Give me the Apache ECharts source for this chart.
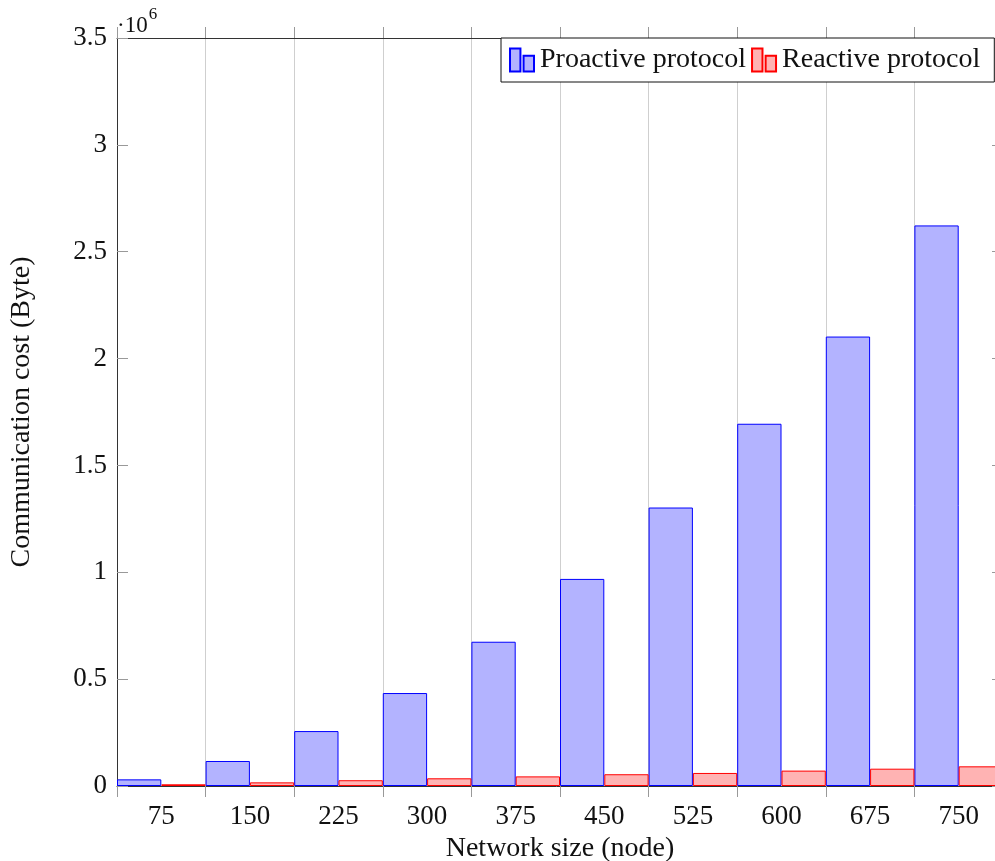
<!DOCTYPE html>
<html>
<head>
<meta charset="utf-8">
<script src="https://cdn.jsdelivr.net/npm/echarts@6/dist/echarts.min.js"></script>
<style>
  html, body { margin: 0; padding: 0; background: #fff; }
  #chart { width: 995px; height: 861px; }
</style>
</head>
<body>
<div id="chart"></div>
<script>
// Network sizes (number of nodes)
const networkSizes = ['75', '150', '225', '300', '375', '450', '525', '600', '675', '750'];
// Communication cost in bytes
const proactiveCost = [31000, 117000, 257000, 435000, 675000, 969000, 1303000, 1695000, 2103000, 2623000];
const reactiveCost  = [8000, 17000, 27000, 36000, 45000, 55000, 61000, 72000, 81000, 92000];
// Y tick step and range (bytes)
const yMax = 3500000;
const yStep = 500000;
const yScale = 1e6;

const FONT = 'Liberation Serif';
const FS_TICK = 27;
const FS_TEXT = 28;
const axisColor = '#333';
const tickColor = '#999';
const gridColor = '#cfcfcf';

const chart = echarts.init(document.getElementById('chart'), null, { renderer: 'canvas' });

const xBase = {
  type: 'category',
  data: networkSizes,
  boundaryGap: true,
  axisLine: { show: true, onZero: false, lineStyle: { color: axisColor, width: 1 } },
  axisTick: { show: true, inside: false, length: 11, lineStyle: { color: tickColor } }
};
const yBase = {
  type: 'value',
  min: 0,
  max: yMax,
  interval: yStep,
  splitLine: { show: false },
  axisLine: { show: true, onZero: false, lineStyle: { color: axisColor, width: 1 } },
  axisTick: { show: true, inside: true, length: 11, lineStyle: { color: tickColor } }
};

const legendIcon = 'path://M0,0 h10 v22 h-10 Z M13,7 h10 v15 h-10 Z';

chart.setOption({
  animation: false,
  backgroundColor: '#fff',
  textStyle: { fontFamily: FONT },
  // the plot box runs a few pixels past the right edge of the canvas
  grid: {
    left: 117, top: 38, width: 886, height: 748,
    containLabel: false,
    outerBoundsMode: 'none'
  },
  xAxis: [
    Object.assign({}, xBase, {
      position: 'bottom',
      name: 'Network size (node)',
      nameLocation: 'middle',
      nameGap: 40,
      nameTextStyle: { fontFamily: FONT, fontSize: FS_TEXT, color: '#111' },
      axisLabel: { fontFamily: FONT, fontSize: FS_TICK, color: '#111', margin: 17 },
      splitLine: { show: true, lineStyle: { color: gridColor, width: 1 } }
    }),
    Object.assign({}, xBase, {
      position: 'top',
      axisLabel: { show: false },
      splitLine: { show: false }
    })
  ],
  yAxis: [
    Object.assign({}, yBase, {
      position: 'left',
      name: 'Communication cost (Byte)',
      nameLocation: 'middle',
      nameGap: 81,
      nameRotate: 90,
      nameTextStyle: { fontFamily: FONT, fontSize: FS_TEXT, color: '#111' },
      axisLabel: {
        fontFamily: FONT, fontSize: FS_TICK, color: '#111', margin: 10,
        formatter: v => String(v / yScale)
      }
    }),
    Object.assign({}, yBase, {
      position: 'right',
      axisLabel: { show: false }
    })
  ],
  legend: {
    left: 501,
    top: 38,
    orient: 'horizontal',
    backgroundColor: '#fff',
    borderColor: '#111',
    borderWidth: 1,
    borderRadius: 0,
    padding: [8, 14, 8, 8],
    itemGap: 5,
    itemWidth: 24,
    itemHeight: 23,
    textStyle: { fontFamily: FONT, fontSize: FS_TEXT, color: '#111', padding: [0, 0, 0, 1] },
    data: [
      { name: 'Proactive protocol', icon: legendIcon },
      { name: 'Reactive protocol', icon: legendIcon }
    ],
    z: 10
  },
  // axis scale factor written above the y axis
  graphic: [
    {
      type: 'text',
      left: 117,
      top: 6,
      style: {
        text: '{a|·10}{b|6}',
        rich: {
          a: { fontFamily: FONT, fontSize: 23, fill: '#111', padding: [8, 0, 0, 0] },
          b: { fontFamily: FONT, fontSize: 17, fill: '#111', verticalAlign: 'top', padding: [0, 0, 12, 1] }
        }
      }
    }
  ],
  series: [
    {
      name: 'Proactive protocol',
      type: 'bar',
      xAxisIndex: 0,
      yAxisIndex: 0,
      data: proactiveCost,
      barGap: '0%',
      barCategoryGap: '0%',
      itemStyle: { color: '#b3b3ff', borderColor: '#0000ff', borderWidth: 1 }
    },
    {
      name: 'Reactive protocol',
      type: 'bar',
      xAxisIndex: 0,
      yAxisIndex: 0,
      data: reactiveCost,
      barGap: '0%',
      barCategoryGap: '0%',
      itemStyle: { color: '#ffb3b3', borderColor: '#ff0000', borderWidth: 1 }
    }
  ]
});
</script>
</body>
</html>
